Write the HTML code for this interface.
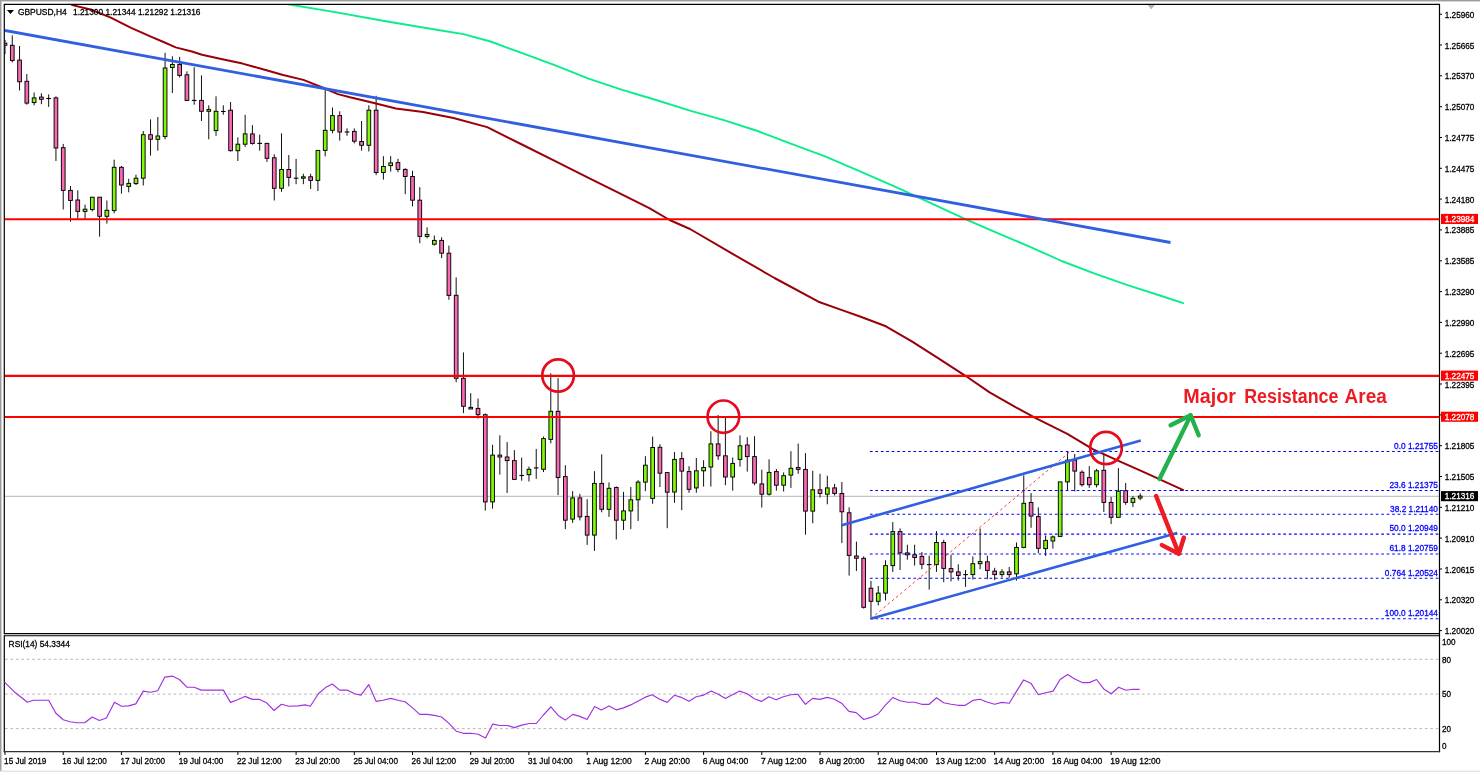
<!DOCTYPE html><html><head><meta charset="utf-8"><title>GBPUSD H4</title>
<style>html,body{margin:0;padding:0;background:#fff;overflow:hidden}svg{display:block}text{font-family:"Liberation Sans", sans-serif;stroke-width:0.3px}</style></head><body>
<svg width="1480" height="772" viewBox="0 0 1480 772">
<defs><clipPath id="cm"><rect x="4.9" y="5" width="1434" height="628"/></clipPath></defs>
<rect width="1480" height="772" fill="#fff"/>
<rect x="0" y="0" width="1480" height="1.4" fill="#9c9c9c"/>
<rect x="0" y="1.4" width="1480" height="0.6" fill="#d4d4d4"/>
<rect x="0" y="0" width="1.5" height="772" fill="#9c9c9c"/>
<rect x="1.5" y="1.4" width="0.6" height="770" fill="#d4d4d4"/>
<rect x="0" y="770.6" width="1480" height="1.4" fill="#e2e2e2"/>
<g clip-path="url(#cm)">
<line x1="4" y1="496.4" x2="1440" y2="496.4" stroke="#c4c4c4" stroke-width="1.1"/>
<line x1="5.00" y1="39.9" x2="5.00" y2="54.0" stroke="#111" stroke-width="1"/>
<rect x="3.15" y="43.2" width="3.7" height="2.1" fill="#fb68b4" stroke="#000" stroke-width="0.95"/>
<line x1="12.28" y1="35.4" x2="12.28" y2="62.4" stroke="#111" stroke-width="1"/>
<rect x="10.43" y="45.3" width="3.7" height="15.2" fill="#fb68b4" stroke="#000" stroke-width="0.95"/>
<line x1="19.55" y1="46.0" x2="19.55" y2="90.5" stroke="#111" stroke-width="1"/>
<rect x="17.70" y="60.1" width="3.7" height="21.7" fill="#fb68b4" stroke="#000" stroke-width="0.95"/>
<line x1="26.83" y1="74.0" x2="26.83" y2="104.7" stroke="#111" stroke-width="1"/>
<rect x="24.98" y="81.3" width="3.7" height="21.8" fill="#fb68b4" stroke="#000" stroke-width="0.95"/>
<line x1="34.11" y1="92.5" x2="34.11" y2="105.3" stroke="#111" stroke-width="1"/>
<rect x="32.26" y="97.9" width="3.7" height="4.7" fill="#80f808" stroke="#000" stroke-width="0.95"/>
<line x1="41.38" y1="93.3" x2="41.38" y2="104.2" stroke="#111" stroke-width="1"/>
<rect x="39.53" y="97.1" width="3.7" height="2.2" fill="#fb68b4" stroke="#000" stroke-width="0.95"/>
<line x1="48.66" y1="94.4" x2="48.66" y2="106.9" stroke="#111" stroke-width="1"/>
<line x1="46.36" y1="98.5" x2="50.96" y2="98.5" stroke="#000" stroke-width="1.1"/>
<line x1="55.94" y1="96.3" x2="55.94" y2="161.0" stroke="#111" stroke-width="1"/>
<rect x="54.09" y="97.9" width="3.7" height="50.1" fill="#fb68b4" stroke="#000" stroke-width="0.95"/>
<line x1="63.22" y1="143.9" x2="63.22" y2="209.5" stroke="#111" stroke-width="1"/>
<rect x="61.37" y="147.7" width="3.7" height="42.7" fill="#fb68b4" stroke="#000" stroke-width="0.95"/>
<line x1="70.49" y1="186.0" x2="70.49" y2="221.7" stroke="#111" stroke-width="1"/>
<rect x="68.64" y="190.4" width="3.7" height="10.1" fill="#fb68b4" stroke="#000" stroke-width="0.95"/>
<line x1="77.77" y1="190.4" x2="77.77" y2="218.7" stroke="#111" stroke-width="1"/>
<rect x="75.92" y="200.0" width="3.7" height="11.4" fill="#fb68b4" stroke="#000" stroke-width="0.95"/>
<line x1="85.05" y1="204.6" x2="85.05" y2="218.7" stroke="#111" stroke-width="1"/>
<rect x="83.20" y="209.2" width="3.7" height="2.2" fill="#80f808" stroke="#000" stroke-width="0.95"/>
<line x1="92.32" y1="197.2" x2="92.32" y2="211.4" stroke="#111" stroke-width="1"/>
<rect x="90.47" y="197.2" width="3.7" height="12.3" fill="#80f808" stroke="#000" stroke-width="0.95"/>
<line x1="99.60" y1="197.2" x2="99.60" y2="236.7" stroke="#111" stroke-width="1"/>
<rect x="97.75" y="197.2" width="3.7" height="19.1" fill="#fb68b4" stroke="#000" stroke-width="0.95"/>
<line x1="106.88" y1="200.5" x2="106.88" y2="223.6" stroke="#111" stroke-width="1"/>
<rect x="105.03" y="210.3" width="3.7" height="6.0" fill="#80f808" stroke="#000" stroke-width="0.95"/>
<line x1="114.16" y1="159.7" x2="114.16" y2="213.3" stroke="#111" stroke-width="1"/>
<rect x="112.31" y="167.3" width="3.7" height="43.3" fill="#80f808" stroke="#000" stroke-width="0.95"/>
<line x1="121.43" y1="166.0" x2="121.43" y2="193.7" stroke="#111" stroke-width="1"/>
<rect x="119.58" y="167.3" width="3.7" height="17.7" fill="#fb68b4" stroke="#000" stroke-width="0.95"/>
<line x1="128.71" y1="178.7" x2="128.71" y2="192.3" stroke="#111" stroke-width="1"/>
<rect x="126.86" y="183.4" width="3.7" height="3.0" fill="#80f808" stroke="#000" stroke-width="0.95"/>
<line x1="135.99" y1="174.7" x2="135.99" y2="185.0" stroke="#111" stroke-width="1"/>
<rect x="134.14" y="178.2" width="3.7" height="5.4" fill="#80f808" stroke="#000" stroke-width="0.95"/>
<line x1="143.26" y1="131.1" x2="143.26" y2="185.5" stroke="#111" stroke-width="1"/>
<rect x="141.41" y="134.7" width="3.7" height="43.5" fill="#80f808" stroke="#000" stroke-width="0.95"/>
<line x1="150.54" y1="119.4" x2="150.54" y2="155.6" stroke="#111" stroke-width="1"/>
<rect x="148.69" y="134.7" width="3.7" height="4.6" fill="#fb68b4" stroke="#000" stroke-width="0.95"/>
<line x1="157.82" y1="117.0" x2="157.82" y2="150.7" stroke="#111" stroke-width="1"/>
<rect x="155.97" y="136.0" width="3.7" height="3.3" fill="#80f808" stroke="#000" stroke-width="0.95"/>
<line x1="165.09" y1="52.8" x2="165.09" y2="139.3" stroke="#111" stroke-width="1"/>
<rect x="163.24" y="68.0" width="3.7" height="68.6" fill="#80f808" stroke="#000" stroke-width="0.95"/>
<line x1="172.37" y1="56.3" x2="172.37" y2="93.0" stroke="#111" stroke-width="1"/>
<rect x="170.52" y="64.5" width="3.7" height="3.0" fill="#80f808" stroke="#000" stroke-width="0.95"/>
<line x1="179.65" y1="56.9" x2="179.65" y2="77.5" stroke="#111" stroke-width="1"/>
<rect x="177.80" y="64.5" width="3.7" height="10.9" fill="#fb68b4" stroke="#000" stroke-width="0.95"/>
<line x1="186.93" y1="71.3" x2="186.93" y2="100.4" stroke="#111" stroke-width="1"/>
<rect x="185.08" y="74.8" width="3.7" height="25.6" fill="#fb68b4" stroke="#000" stroke-width="0.95"/>
<line x1="194.20" y1="67.2" x2="194.20" y2="104.7" stroke="#111" stroke-width="1"/>
<line x1="191.90" y1="100.4" x2="196.50" y2="100.4" stroke="#000" stroke-width="1.1"/>
<line x1="201.48" y1="75.4" x2="201.48" y2="121.0" stroke="#111" stroke-width="1"/>
<rect x="199.63" y="100.4" width="3.7" height="10.9" fill="#fb68b4" stroke="#000" stroke-width="0.95"/>
<line x1="208.76" y1="105.3" x2="208.76" y2="139.3" stroke="#111" stroke-width="1"/>
<rect x="206.91" y="109.6" width="3.7" height="1.7" fill="#80f808" stroke="#000" stroke-width="0.95"/>
<line x1="216.03" y1="96.3" x2="216.03" y2="135.8" stroke="#111" stroke-width="1"/>
<rect x="214.18" y="111.3" width="3.7" height="19.3" fill="#80f808" stroke="#000" stroke-width="0.95"/>
<line x1="223.31" y1="105.3" x2="223.31" y2="114.8" stroke="#111" stroke-width="1"/>
<line x1="221.01" y1="111.5" x2="225.61" y2="111.5" stroke="#000" stroke-width="1.1"/>
<line x1="230.59" y1="102.0" x2="230.59" y2="151.5" stroke="#111" stroke-width="1"/>
<rect x="228.74" y="110.2" width="3.7" height="40.5" fill="#fb68b4" stroke="#000" stroke-width="0.95"/>
<line x1="237.86" y1="137.4" x2="237.86" y2="161.0" stroke="#111" stroke-width="1"/>
<rect x="236.01" y="144.2" width="3.7" height="6.5" fill="#80f808" stroke="#000" stroke-width="0.95"/>
<line x1="245.14" y1="114.8" x2="245.14" y2="146.9" stroke="#111" stroke-width="1"/>
<rect x="243.29" y="133.9" width="3.7" height="10.3" fill="#80f808" stroke="#000" stroke-width="0.95"/>
<line x1="252.42" y1="125.1" x2="252.42" y2="144.7" stroke="#111" stroke-width="1"/>
<rect x="250.57" y="133.9" width="3.7" height="9.5" fill="#fb68b4" stroke="#000" stroke-width="0.95"/>
<line x1="259.69" y1="134.7" x2="259.69" y2="150.7" stroke="#111" stroke-width="1"/>
<line x1="257.39" y1="143.4" x2="262.00" y2="143.4" stroke="#000" stroke-width="1.1"/>
<line x1="266.97" y1="142.8" x2="266.97" y2="161.9" stroke="#111" stroke-width="1"/>
<rect x="265.12" y="143.4" width="3.7" height="14.9" fill="#fb68b4" stroke="#000" stroke-width="0.95"/>
<line x1="274.25" y1="154.3" x2="274.25" y2="200.5" stroke="#111" stroke-width="1"/>
<rect x="272.40" y="157.8" width="3.7" height="30.5" fill="#fb68b4" stroke="#000" stroke-width="0.95"/>
<line x1="281.53" y1="133.3" x2="281.53" y2="191.8" stroke="#111" stroke-width="1"/>
<rect x="279.68" y="169.5" width="3.7" height="18.8" fill="#80f808" stroke="#000" stroke-width="0.95"/>
<line x1="288.80" y1="155.0" x2="288.80" y2="186.4" stroke="#111" stroke-width="1"/>
<rect x="286.95" y="169.5" width="3.7" height="7.9" fill="#fb68b4" stroke="#000" stroke-width="0.95"/>
<line x1="296.08" y1="158.9" x2="296.08" y2="184.2" stroke="#111" stroke-width="1"/>
<line x1="293.78" y1="178.2" x2="298.38" y2="178.2" stroke="#000" stroke-width="1.1"/>
<line x1="303.36" y1="173.8" x2="303.36" y2="184.2" stroke="#111" stroke-width="1"/>
<rect x="301.51" y="176.8" width="3.7" height="1.4" fill="#80f808" stroke="#000" stroke-width="0.95"/>
<line x1="310.63" y1="173.8" x2="310.63" y2="189.0" stroke="#111" stroke-width="1"/>
<rect x="308.78" y="176.8" width="3.7" height="3.6" fill="#fb68b4" stroke="#000" stroke-width="0.95"/>
<line x1="317.91" y1="150.4" x2="317.91" y2="191.0" stroke="#111" stroke-width="1"/>
<rect x="316.06" y="150.4" width="3.7" height="30.0" fill="#80f808" stroke="#000" stroke-width="0.95"/>
<line x1="325.19" y1="89.0" x2="325.19" y2="156.4" stroke="#111" stroke-width="1"/>
<rect x="323.34" y="130.3" width="3.7" height="20.1" fill="#80f808" stroke="#000" stroke-width="0.95"/>
<line x1="332.47" y1="107.5" x2="332.47" y2="133.3" stroke="#111" stroke-width="1"/>
<rect x="330.62" y="115.6" width="3.7" height="14.7" fill="#80f808" stroke="#000" stroke-width="0.95"/>
<line x1="339.74" y1="111.3" x2="339.74" y2="140.6" stroke="#111" stroke-width="1"/>
<rect x="337.89" y="115.6" width="3.7" height="16.4" fill="#fb68b4" stroke="#000" stroke-width="0.95"/>
<line x1="347.02" y1="128.4" x2="347.02" y2="135.8" stroke="#111" stroke-width="1"/>
<line x1="344.72" y1="132.0" x2="349.32" y2="132.0" stroke="#000" stroke-width="1.1"/>
<line x1="354.30" y1="128.4" x2="354.30" y2="143.4" stroke="#111" stroke-width="1"/>
<rect x="352.45" y="131.4" width="3.7" height="9.8" fill="#fb68b4" stroke="#000" stroke-width="0.95"/>
<line x1="361.57" y1="121.0" x2="361.57" y2="150.7" stroke="#111" stroke-width="1"/>
<rect x="359.72" y="141.5" width="3.7" height="3.8" fill="#fb68b4" stroke="#000" stroke-width="0.95"/>
<line x1="368.85" y1="105.3" x2="368.85" y2="151.5" stroke="#111" stroke-width="1"/>
<rect x="367.00" y="110.2" width="3.7" height="35.1" fill="#80f808" stroke="#000" stroke-width="0.95"/>
<line x1="376.13" y1="95.8" x2="376.13" y2="175.2" stroke="#111" stroke-width="1"/>
<rect x="374.28" y="110.2" width="3.7" height="62.3" fill="#fb68b4" stroke="#000" stroke-width="0.95"/>
<line x1="383.40" y1="156.2" x2="383.40" y2="179.6" stroke="#111" stroke-width="1"/>
<rect x="381.55" y="166.5" width="3.7" height="6.0" fill="#80f808" stroke="#000" stroke-width="0.95"/>
<line x1="390.68" y1="156.1" x2="390.68" y2="171.6" stroke="#111" stroke-width="1"/>
<rect x="388.83" y="162.9" width="3.7" height="2.7" fill="#80f808" stroke="#000" stroke-width="0.95"/>
<line x1="397.96" y1="158.8" x2="397.96" y2="172.2" stroke="#111" stroke-width="1"/>
<rect x="396.11" y="162.6" width="3.7" height="6.8" fill="#fb68b4" stroke="#000" stroke-width="0.95"/>
<line x1="405.24" y1="168.3" x2="405.24" y2="194.2" stroke="#111" stroke-width="1"/>
<rect x="403.38" y="169.4" width="3.7" height="7.1" fill="#fb68b4" stroke="#000" stroke-width="0.95"/>
<line x1="412.51" y1="170.8" x2="412.51" y2="206.4" stroke="#111" stroke-width="1"/>
<rect x="410.66" y="176.5" width="3.7" height="23.7" fill="#fb68b4" stroke="#000" stroke-width="0.95"/>
<line x1="419.79" y1="187.1" x2="419.79" y2="243.2" stroke="#111" stroke-width="1"/>
<rect x="417.94" y="200.2" width="3.7" height="36.2" fill="#fb68b4" stroke="#000" stroke-width="0.95"/>
<line x1="427.07" y1="227.4" x2="427.07" y2="238.3" stroke="#111" stroke-width="1"/>
<rect x="425.22" y="234.4" width="3.7" height="2.0" fill="#80f808" stroke="#000" stroke-width="0.95"/>
<line x1="434.34" y1="235.5" x2="434.34" y2="245.6" stroke="#111" stroke-width="1"/>
<rect x="432.49" y="240.4" width="3.7" height="3.8" fill="#80f808" stroke="#000" stroke-width="0.95"/>
<line x1="441.62" y1="237.2" x2="441.62" y2="258.1" stroke="#111" stroke-width="1"/>
<rect x="439.77" y="240.4" width="3.7" height="12.8" fill="#fb68b4" stroke="#000" stroke-width="0.95"/>
<line x1="448.90" y1="245.6" x2="448.90" y2="299.8" stroke="#111" stroke-width="1"/>
<rect x="447.05" y="253.2" width="3.7" height="42.2" fill="#fb68b4" stroke="#000" stroke-width="0.95"/>
<line x1="456.17" y1="277.4" x2="456.17" y2="382.3" stroke="#111" stroke-width="1"/>
<rect x="454.32" y="295.3" width="3.7" height="83.0" fill="#fb68b4" stroke="#000" stroke-width="0.95"/>
<line x1="463.45" y1="352.4" x2="463.45" y2="413.1" stroke="#111" stroke-width="1"/>
<rect x="461.60" y="378.3" width="3.7" height="28.0" fill="#fb68b4" stroke="#000" stroke-width="0.95"/>
<line x1="470.73" y1="393.2" x2="470.73" y2="409.0" stroke="#111" stroke-width="1"/>
<rect x="468.88" y="407.4" width="3.7" height="1.6" fill="#fb68b4" stroke="#000" stroke-width="0.95"/>
<line x1="478.00" y1="398.6" x2="478.00" y2="418.6" stroke="#111" stroke-width="1"/>
<rect x="476.15" y="408.4" width="3.7" height="6.3" fill="#fb68b4" stroke="#000" stroke-width="0.95"/>
<line x1="485.28" y1="413.5" x2="485.28" y2="510.6" stroke="#111" stroke-width="1"/>
<rect x="483.43" y="414.7" width="3.7" height="87.2" fill="#fb68b4" stroke="#000" stroke-width="0.95"/>
<line x1="492.56" y1="444.8" x2="492.56" y2="508.7" stroke="#111" stroke-width="1"/>
<rect x="490.71" y="455.1" width="3.7" height="46.8" fill="#80f808" stroke="#000" stroke-width="0.95"/>
<line x1="499.84" y1="435.3" x2="499.84" y2="474.7" stroke="#111" stroke-width="1"/>
<rect x="497.99" y="455.1" width="3.7" height="1.9" fill="#fb68b4" stroke="#000" stroke-width="0.95"/>
<line x1="507.11" y1="442.1" x2="507.11" y2="493.0" stroke="#111" stroke-width="1"/>
<rect x="505.26" y="457.0" width="3.7" height="3.6" fill="#fb68b4" stroke="#000" stroke-width="0.95"/>
<line x1="514.39" y1="450.2" x2="514.39" y2="479.4" stroke="#111" stroke-width="1"/>
<rect x="512.54" y="460.6" width="3.7" height="18.8" fill="#fb68b4" stroke="#000" stroke-width="0.95"/>
<line x1="521.67" y1="457.6" x2="521.67" y2="480.7" stroke="#111" stroke-width="1"/>
<line x1="519.37" y1="475.5" x2="523.97" y2="475.5" stroke="#000" stroke-width="1.1"/>
<line x1="528.94" y1="466.6" x2="528.94" y2="481.5" stroke="#111" stroke-width="1"/>
<rect x="527.09" y="469.3" width="3.7" height="5.4" fill="#80f808" stroke="#000" stroke-width="0.95"/>
<line x1="536.22" y1="448.9" x2="536.22" y2="478.8" stroke="#111" stroke-width="1"/>
<line x1="533.92" y1="467.9" x2="538.52" y2="467.9" stroke="#000" stroke-width="1.1"/>
<line x1="543.50" y1="436.6" x2="543.50" y2="472.0" stroke="#111" stroke-width="1"/>
<rect x="541.65" y="438.6" width="3.7" height="30.7" fill="#80f808" stroke="#000" stroke-width="0.95"/>
<line x1="550.77" y1="373.3" x2="550.77" y2="443.4" stroke="#111" stroke-width="1"/>
<rect x="548.92" y="411.3" width="3.7" height="28.1" fill="#80f808" stroke="#000" stroke-width="0.95"/>
<line x1="558.05" y1="378.2" x2="558.05" y2="495.1" stroke="#111" stroke-width="1"/>
<rect x="556.20" y="411.3" width="3.7" height="66.2" fill="#fb68b4" stroke="#000" stroke-width="0.95"/>
<line x1="565.33" y1="465.2" x2="565.33" y2="529.1" stroke="#111" stroke-width="1"/>
<rect x="563.48" y="476.6" width="3.7" height="43.6" fill="#fb68b4" stroke="#000" stroke-width="0.95"/>
<line x1="572.61" y1="491.1" x2="572.61" y2="522.9" stroke="#111" stroke-width="1"/>
<rect x="570.76" y="497.9" width="3.7" height="21.2" fill="#80f808" stroke="#000" stroke-width="0.95"/>
<line x1="579.88" y1="493.8" x2="579.88" y2="520.4" stroke="#111" stroke-width="1"/>
<rect x="578.03" y="497.9" width="3.7" height="19.0" fill="#fb68b4" stroke="#000" stroke-width="0.95"/>
<line x1="587.16" y1="499.2" x2="587.16" y2="544.9" stroke="#111" stroke-width="1"/>
<rect x="585.31" y="516.4" width="3.7" height="18.7" fill="#fb68b4" stroke="#000" stroke-width="0.95"/>
<line x1="594.44" y1="471.2" x2="594.44" y2="550.9" stroke="#111" stroke-width="1"/>
<rect x="592.59" y="483.4" width="3.7" height="51.7" fill="#80f808" stroke="#000" stroke-width="0.95"/>
<line x1="601.71" y1="454.3" x2="601.71" y2="512.3" stroke="#111" stroke-width="1"/>
<rect x="599.86" y="483.4" width="3.7" height="25.9" fill="#fb68b4" stroke="#000" stroke-width="0.95"/>
<line x1="608.99" y1="482.4" x2="608.99" y2="516.9" stroke="#111" stroke-width="1"/>
<rect x="607.14" y="488.3" width="3.7" height="21.0" fill="#80f808" stroke="#000" stroke-width="0.95"/>
<line x1="616.27" y1="486.4" x2="616.27" y2="539.5" stroke="#111" stroke-width="1"/>
<rect x="614.42" y="487.5" width="3.7" height="32.7" fill="#fb68b4" stroke="#000" stroke-width="0.95"/>
<line x1="623.54" y1="491.9" x2="623.54" y2="530.0" stroke="#111" stroke-width="1"/>
<rect x="621.69" y="510.9" width="3.7" height="9.3" fill="#80f808" stroke="#000" stroke-width="0.95"/>
<line x1="630.82" y1="487.0" x2="630.82" y2="529.1" stroke="#111" stroke-width="1"/>
<rect x="628.97" y="499.8" width="3.7" height="11.1" fill="#80f808" stroke="#000" stroke-width="0.95"/>
<line x1="638.10" y1="480.2" x2="638.10" y2="521.0" stroke="#111" stroke-width="1"/>
<rect x="636.25" y="482.1" width="3.7" height="17.7" fill="#80f808" stroke="#000" stroke-width="0.95"/>
<line x1="645.38" y1="456.2" x2="645.38" y2="491.1" stroke="#111" stroke-width="1"/>
<rect x="643.53" y="465.2" width="3.7" height="16.9" fill="#80f808" stroke="#000" stroke-width="0.95"/>
<line x1="652.65" y1="436.6" x2="652.65" y2="503.8" stroke="#111" stroke-width="1"/>
<rect x="650.80" y="447.5" width="3.7" height="50.9" fill="#80f808" stroke="#000" stroke-width="0.95"/>
<line x1="659.93" y1="444.2" x2="659.93" y2="487.0" stroke="#111" stroke-width="1"/>
<rect x="658.08" y="447.3" width="3.7" height="25.9" fill="#fb68b4" stroke="#000" stroke-width="0.95"/>
<line x1="667.21" y1="472.6" x2="667.21" y2="528.2" stroke="#111" stroke-width="1"/>
<rect x="665.36" y="472.6" width="3.7" height="19.6" fill="#fb68b4" stroke="#000" stroke-width="0.95"/>
<line x1="674.48" y1="452.0" x2="674.48" y2="502.9" stroke="#111" stroke-width="1"/>
<rect x="672.63" y="459.4" width="3.7" height="32.6" fill="#80f808" stroke="#000" stroke-width="0.95"/>
<line x1="681.76" y1="452.0" x2="681.76" y2="510.2" stroke="#111" stroke-width="1"/>
<rect x="679.91" y="458.6" width="3.7" height="12.5" fill="#fb68b4" stroke="#000" stroke-width="0.95"/>
<line x1="689.04" y1="466.2" x2="689.04" y2="492.8" stroke="#111" stroke-width="1"/>
<rect x="687.19" y="471.6" width="3.7" height="17.7" fill="#fb68b4" stroke="#000" stroke-width="0.95"/>
<line x1="696.32" y1="458.0" x2="696.32" y2="492.8" stroke="#111" stroke-width="1"/>
<rect x="694.47" y="470.8" width="3.7" height="17.1" fill="#80f808" stroke="#000" stroke-width="0.95"/>
<line x1="703.59" y1="460.2" x2="703.59" y2="486.6" stroke="#111" stroke-width="1"/>
<rect x="701.74" y="467.5" width="3.7" height="3.3" fill="#80f808" stroke="#000" stroke-width="0.95"/>
<line x1="710.87" y1="431.3" x2="710.87" y2="486.6" stroke="#111" stroke-width="1"/>
<rect x="709.02" y="443.9" width="3.7" height="23.1" fill="#80f808" stroke="#000" stroke-width="0.95"/>
<line x1="718.15" y1="415.0" x2="718.15" y2="459.9" stroke="#111" stroke-width="1"/>
<rect x="716.30" y="443.9" width="3.7" height="11.9" fill="#fb68b4" stroke="#000" stroke-width="0.95"/>
<line x1="725.42" y1="417.2" x2="725.42" y2="485.2" stroke="#111" stroke-width="1"/>
<rect x="723.57" y="455.8" width="3.7" height="21.2" fill="#fb68b4" stroke="#000" stroke-width="0.95"/>
<line x1="732.70" y1="457.5" x2="732.70" y2="490.7" stroke="#111" stroke-width="1"/>
<rect x="730.85" y="463.4" width="3.7" height="13.6" fill="#80f808" stroke="#000" stroke-width="0.95"/>
<line x1="739.98" y1="435.4" x2="739.98" y2="466.7" stroke="#111" stroke-width="1"/>
<rect x="738.13" y="445.8" width="3.7" height="13.6" fill="#80f808" stroke="#000" stroke-width="0.95"/>
<line x1="747.25" y1="437.1" x2="747.25" y2="471.6" stroke="#111" stroke-width="1"/>
<rect x="745.40" y="445.0" width="3.7" height="11.6" fill="#fb68b4" stroke="#000" stroke-width="0.95"/>
<line x1="754.53" y1="436.2" x2="754.53" y2="485.2" stroke="#111" stroke-width="1"/>
<rect x="752.68" y="456.6" width="3.7" height="26.4" fill="#fb68b4" stroke="#000" stroke-width="0.95"/>
<line x1="761.81" y1="469.7" x2="761.81" y2="507.5" stroke="#111" stroke-width="1"/>
<rect x="759.96" y="483.9" width="3.7" height="10.3" fill="#fb68b4" stroke="#000" stroke-width="0.95"/>
<line x1="769.09" y1="459.4" x2="769.09" y2="495.5" stroke="#111" stroke-width="1"/>
<rect x="767.24" y="472.4" width="3.7" height="21.8" fill="#80f808" stroke="#000" stroke-width="0.95"/>
<line x1="776.36" y1="468.9" x2="776.36" y2="490.7" stroke="#111" stroke-width="1"/>
<rect x="774.51" y="471.6" width="3.7" height="13.6" fill="#fb68b4" stroke="#000" stroke-width="0.95"/>
<line x1="783.64" y1="472.4" x2="783.64" y2="491.5" stroke="#111" stroke-width="1"/>
<rect x="781.79" y="475.7" width="3.7" height="9.5" fill="#80f808" stroke="#000" stroke-width="0.95"/>
<line x1="790.92" y1="451.2" x2="790.92" y2="487.9" stroke="#111" stroke-width="1"/>
<rect x="789.07" y="468.3" width="3.7" height="6.8" fill="#80f808" stroke="#000" stroke-width="0.95"/>
<line x1="798.19" y1="443.6" x2="798.19" y2="473.8" stroke="#111" stroke-width="1"/>
<rect x="796.34" y="467.5" width="3.7" height="1.9" fill="#fb68b4" stroke="#000" stroke-width="0.95"/>
<line x1="805.47" y1="453.1" x2="805.47" y2="534.7" stroke="#111" stroke-width="1"/>
<rect x="803.62" y="469.4" width="3.7" height="41.7" fill="#fb68b4" stroke="#000" stroke-width="0.95"/>
<line x1="812.75" y1="470.8" x2="812.75" y2="523.3" stroke="#111" stroke-width="1"/>
<rect x="810.90" y="489.8" width="3.7" height="21.3" fill="#80f808" stroke="#000" stroke-width="0.95"/>
<line x1="820.02" y1="473.8" x2="820.02" y2="497.5" stroke="#111" stroke-width="1"/>
<rect x="818.17" y="489.8" width="3.7" height="3.6" fill="#fb68b4" stroke="#000" stroke-width="0.95"/>
<line x1="827.30" y1="475.7" x2="827.30" y2="504.3" stroke="#111" stroke-width="1"/>
<rect x="825.45" y="487.9" width="3.7" height="6.3" fill="#80f808" stroke="#000" stroke-width="0.95"/>
<line x1="834.58" y1="483.9" x2="834.58" y2="495.5" stroke="#111" stroke-width="1"/>
<rect x="832.73" y="487.9" width="3.7" height="5.5" fill="#fb68b4" stroke="#000" stroke-width="0.95"/>
<line x1="841.86" y1="482.0" x2="841.86" y2="543.1" stroke="#111" stroke-width="1"/>
<rect x="840.00" y="493.5" width="3.7" height="18.3" fill="#fb68b4" stroke="#000" stroke-width="0.95"/>
<line x1="849.13" y1="507.3" x2="849.13" y2="575.6" stroke="#111" stroke-width="1"/>
<rect x="847.28" y="512.8" width="3.7" height="42.6" fill="#fb68b4" stroke="#000" stroke-width="0.95"/>
<line x1="856.41" y1="541.6" x2="856.41" y2="571.0" stroke="#111" stroke-width="1"/>
<rect x="854.56" y="556.0" width="3.7" height="2.2" fill="#fb68b4" stroke="#000" stroke-width="0.95"/>
<line x1="863.69" y1="556.4" x2="863.69" y2="608.6" stroke="#111" stroke-width="1"/>
<rect x="861.84" y="558.3" width="3.7" height="49.0" fill="#fb68b4" stroke="#000" stroke-width="0.95"/>
<line x1="870.96" y1="580.9" x2="870.96" y2="617.6" stroke="#111" stroke-width="1"/>
<rect x="869.11" y="588.2" width="3.7" height="13.1" fill="#fb68b4" stroke="#000" stroke-width="0.95"/>
<line x1="878.24" y1="586.0" x2="878.24" y2="605.4" stroke="#111" stroke-width="1"/>
<rect x="876.39" y="593.1" width="3.7" height="8.2" fill="#80f808" stroke="#000" stroke-width="0.95"/>
<line x1="885.52" y1="560.2" x2="885.52" y2="600.5" stroke="#111" stroke-width="1"/>
<rect x="883.67" y="565.6" width="3.7" height="27.5" fill="#80f808" stroke="#000" stroke-width="0.95"/>
<line x1="892.79" y1="522.1" x2="892.79" y2="571.9" stroke="#111" stroke-width="1"/>
<rect x="890.94" y="531.6" width="3.7" height="34.0" fill="#80f808" stroke="#000" stroke-width="0.95"/>
<line x1="900.07" y1="528.4" x2="900.07" y2="570.0" stroke="#111" stroke-width="1"/>
<rect x="898.22" y="531.6" width="3.7" height="21.3" fill="#fb68b4" stroke="#000" stroke-width="0.95"/>
<line x1="907.35" y1="544.7" x2="907.35" y2="559.7" stroke="#111" stroke-width="1"/>
<rect x="905.50" y="552.9" width="3.7" height="1.9" fill="#fb68b4" stroke="#000" stroke-width="0.95"/>
<line x1="914.62" y1="544.7" x2="914.62" y2="565.6" stroke="#111" stroke-width="1"/>
<rect x="912.77" y="554.8" width="3.7" height="2.7" fill="#fb68b4" stroke="#000" stroke-width="0.95"/>
<line x1="921.90" y1="552.0" x2="921.90" y2="569.2" stroke="#111" stroke-width="1"/>
<rect x="920.05" y="556.4" width="3.7" height="7.9" fill="#fb68b4" stroke="#000" stroke-width="0.95"/>
<line x1="929.18" y1="555.6" x2="929.18" y2="589.6" stroke="#111" stroke-width="1"/>
<line x1="926.88" y1="564.6" x2="931.48" y2="564.6" stroke="#000" stroke-width="1.1"/>
<line x1="936.46" y1="531.1" x2="936.46" y2="571.9" stroke="#111" stroke-width="1"/>
<rect x="934.61" y="542.5" width="3.7" height="22.1" fill="#80f808" stroke="#000" stroke-width="0.95"/>
<line x1="943.73" y1="539.8" x2="943.73" y2="582.2" stroke="#111" stroke-width="1"/>
<rect x="941.88" y="542.5" width="3.7" height="25.9" fill="#fb68b4" stroke="#000" stroke-width="0.95"/>
<line x1="951.01" y1="554.8" x2="951.01" y2="581.4" stroke="#111" stroke-width="1"/>
<rect x="949.16" y="568.6" width="3.7" height="3.3" fill="#fb68b4" stroke="#000" stroke-width="0.95"/>
<line x1="958.29" y1="564.3" x2="958.29" y2="580.6" stroke="#111" stroke-width="1"/>
<rect x="956.44" y="571.9" width="3.7" height="3.5" fill="#fb68b4" stroke="#000" stroke-width="0.95"/>
<line x1="965.56" y1="570.0" x2="965.56" y2="586.9" stroke="#111" stroke-width="1"/>
<line x1="963.26" y1="574.6" x2="967.86" y2="574.6" stroke="#000" stroke-width="1.1"/>
<line x1="972.84" y1="556.4" x2="972.84" y2="579.5" stroke="#111" stroke-width="1"/>
<rect x="970.99" y="563.7" width="3.7" height="10.9" fill="#80f808" stroke="#000" stroke-width="0.95"/>
<line x1="980.12" y1="528.4" x2="980.12" y2="569.2" stroke="#111" stroke-width="1"/>
<rect x="978.27" y="561.6" width="3.7" height="2.1" fill="#80f808" stroke="#000" stroke-width="0.95"/>
<line x1="987.39" y1="555.6" x2="987.39" y2="579.2" stroke="#111" stroke-width="1"/>
<rect x="985.54" y="561.8" width="3.7" height="8.7" fill="#fb68b4" stroke="#000" stroke-width="0.95"/>
<line x1="994.67" y1="567.8" x2="994.67" y2="580.1" stroke="#111" stroke-width="1"/>
<rect x="992.82" y="571.1" width="3.7" height="3.5" fill="#fb68b4" stroke="#000" stroke-width="0.95"/>
<line x1="1001.95" y1="569.2" x2="1001.95" y2="577.3" stroke="#111" stroke-width="1"/>
<rect x="1000.10" y="571.9" width="3.7" height="2.7" fill="#80f808" stroke="#000" stroke-width="0.95"/>
<line x1="1009.23" y1="567.0" x2="1009.23" y2="577.9" stroke="#111" stroke-width="1"/>
<rect x="1007.38" y="571.9" width="3.7" height="2.7" fill="#fb68b4" stroke="#000" stroke-width="0.95"/>
<line x1="1016.50" y1="542.5" x2="1016.50" y2="580.6" stroke="#111" stroke-width="1"/>
<rect x="1014.65" y="547.4" width="3.7" height="26.4" fill="#80f808" stroke="#000" stroke-width="0.95"/>
<line x1="1023.78" y1="475.3" x2="1023.78" y2="548.2" stroke="#111" stroke-width="1"/>
<rect x="1021.93" y="503.3" width="3.7" height="44.1" fill="#80f808" stroke="#000" stroke-width="0.95"/>
<line x1="1031.06" y1="493.0" x2="1031.06" y2="527.8" stroke="#111" stroke-width="1"/>
<rect x="1029.21" y="502.5" width="3.7" height="13.6" fill="#fb68b4" stroke="#000" stroke-width="0.95"/>
<line x1="1038.33" y1="507.4" x2="1038.33" y2="553.0" stroke="#111" stroke-width="1"/>
<rect x="1036.48" y="516.6" width="3.7" height="31.7" fill="#fb68b4" stroke="#000" stroke-width="0.95"/>
<line x1="1045.61" y1="535.5" x2="1045.61" y2="555.9" stroke="#111" stroke-width="1"/>
<rect x="1043.76" y="540.4" width="3.7" height="8.2" fill="#80f808" stroke="#000" stroke-width="0.95"/>
<line x1="1052.89" y1="535.5" x2="1052.89" y2="548.6" stroke="#111" stroke-width="1"/>
<rect x="1051.04" y="536.9" width="3.7" height="4.1" fill="#80f808" stroke="#000" stroke-width="0.95"/>
<line x1="1060.16" y1="481.9" x2="1060.16" y2="537.0" stroke="#111" stroke-width="1"/>
<rect x="1058.32" y="481.9" width="3.7" height="54.5" fill="#80f808" stroke="#000" stroke-width="0.95"/>
<line x1="1067.44" y1="452.0" x2="1067.44" y2="490.7" stroke="#111" stroke-width="1"/>
<rect x="1065.59" y="460.2" width="3.7" height="21.7" fill="#80f808" stroke="#000" stroke-width="0.95"/>
<line x1="1074.72" y1="453.9" x2="1074.72" y2="491.5" stroke="#111" stroke-width="1"/>
<rect x="1072.87" y="460.2" width="3.7" height="10.9" fill="#fb68b4" stroke="#000" stroke-width="0.95"/>
<line x1="1082.00" y1="470.3" x2="1082.00" y2="486.6" stroke="#111" stroke-width="1"/>
<rect x="1080.15" y="472.2" width="3.7" height="12.5" fill="#fb68b4" stroke="#000" stroke-width="0.95"/>
<line x1="1089.27" y1="466.2" x2="1089.27" y2="487.9" stroke="#111" stroke-width="1"/>
<rect x="1087.42" y="477.6" width="3.7" height="7.1" fill="#fb68b4" stroke="#000" stroke-width="0.95"/>
<line x1="1096.55" y1="468.9" x2="1096.55" y2="487.4" stroke="#111" stroke-width="1"/>
<rect x="1094.70" y="470.8" width="3.7" height="13.9" fill="#80f808" stroke="#000" stroke-width="0.95"/>
<line x1="1103.83" y1="453.4" x2="1103.83" y2="511.9" stroke="#111" stroke-width="1"/>
<rect x="1101.98" y="470.3" width="3.7" height="32.1" fill="#fb68b4" stroke="#000" stroke-width="0.95"/>
<line x1="1111.10" y1="496.9" x2="1111.10" y2="524.1" stroke="#111" stroke-width="1"/>
<rect x="1109.25" y="502.4" width="3.7" height="14.9" fill="#fb68b4" stroke="#000" stroke-width="0.95"/>
<line x1="1118.38" y1="468.1" x2="1118.38" y2="517.3" stroke="#111" stroke-width="1"/>
<rect x="1116.53" y="491.2" width="3.7" height="26.1" fill="#80f808" stroke="#000" stroke-width="0.95"/>
<line x1="1125.66" y1="483.0" x2="1125.66" y2="504.8" stroke="#111" stroke-width="1"/>
<rect x="1123.81" y="490.7" width="3.7" height="11.7" fill="#fb68b4" stroke="#000" stroke-width="0.95"/>
<line x1="1132.93" y1="496.1" x2="1132.93" y2="507.0" stroke="#111" stroke-width="1"/>
<rect x="1131.09" y="498.3" width="3.7" height="4.1" fill="#80f808" stroke="#000" stroke-width="0.95"/>
<line x1="1140.21" y1="493.4" x2="1140.21" y2="500.2" stroke="#111" stroke-width="1"/>
<rect x="1138.36" y="496.1" width="3.7" height="1.9" fill="#80f808" stroke="#000" stroke-width="0.95"/>
<polyline fill="none" stroke="#08ee88" stroke-width="1.9" transform="translate(0 0.3)" stroke-linejoin="round" points="287.8,4.0 335.1,11.8 385.8,20.9 436.5,29.4 463.5,33.8 490.5,41.2 520.9,52.4 554.7,64.9 588.5,78.4 622.3,89.5 656.1,99.7 690.0,110.4 723.8,119.9 757.6,130.7 791.4,143.5 825.1,156.0 858.9,170.5 892.7,185.4 926.5,200.9 967.0,219.5 994.1,231.4 1027.8,245.5 1061.6,260.7 1095.4,273.6 1129.2,285.4 1163.0,296.2 1183.9,303.0"/>
<polyline fill="none" stroke="#9a0008" stroke-width="2.0" transform="translate(0 0.4)" stroke-linejoin="round" points="71.3,4.5 90.5,9.1 110.8,17.2 131.1,27.4 151.4,36.5 163.5,41.6 175.7,47.0 191.9,51.1 202.0,54.3 222.3,58.8 242.6,63.2 262.9,68.9 283.1,74.6 303.4,79.5 323.7,87.6 337.9,93.7 350.0,96.9 368.9,101.4 395.9,108.1 423.0,111.5 453.4,117.6 487.2,126.7 520.9,143.6 554.7,160.5 588.5,177.4 622.3,194.3 649.3,207.8 669.6,219.6 690.0,228.6 730.5,252.3 774.5,277.6 818.4,301.3 842.0,309.7 860.0,316.1 885.9,325.9 911.8,340.9 937.7,357.5 966.2,375.9 989.6,392.0 1015.5,406.8 1036.2,417.9 1067.3,433.5 1093.2,449.0 1119.1,460.7 1145.0,472.3 1183.9,489.9"/>
<line x1="869.9" y1="451.4" x2="1439" y2="451.4" stroke="#0000ff" stroke-width="1.05" stroke-dasharray="2.7 2.74"/>
<line x1="869.9" y1="490.4" x2="1439" y2="490.4" stroke="#0000ff" stroke-width="1.05" stroke-dasharray="2.7 2.74"/>
<line x1="869.9" y1="514.3" x2="1439" y2="514.3" stroke="#0000ff" stroke-width="1.05" stroke-dasharray="2.7 2.74"/>
<line x1="869.9" y1="534.1" x2="1439" y2="534.1" stroke="#0000ff" stroke-width="1.05" stroke-dasharray="2.7 2.74"/>
<line x1="869.9" y1="553.9" x2="1439" y2="553.9" stroke="#0000ff" stroke-width="1.05" stroke-dasharray="2.7 2.74"/>
<line x1="869.9" y1="578.2" x2="1439" y2="578.2" stroke="#0000ff" stroke-width="1.05" stroke-dasharray="2.7 2.74"/>
<line x1="869.9" y1="618.7" x2="1439" y2="618.7" stroke="#0000ff" stroke-width="1.05" stroke-dasharray="2.7 2.74"/>
<line x1="871" y1="618.5" x2="1070.5" y2="451.4" stroke="#ff2020" stroke-width="0.9" stroke-dasharray="2.7 2.74"/>
<line x1="4" y1="219.2" x2="1440" y2="219.2" stroke="#ff0000" stroke-width="2.1"/>
<line x1="4" y1="375.9" x2="1440" y2="375.9" stroke="#ff0000" stroke-width="2.1"/>
<line x1="4" y1="417.0" x2="1440" y2="417.0" stroke="#ff0000" stroke-width="2.1"/>
<line x1="4" y1="30.3" x2="1170.5" y2="242.5" stroke="#3060e0" stroke-width="2.8"/>
<line x1="841.7" y1="525.2" x2="1140.8" y2="440.6" stroke="#3060e0" stroke-width="2.6"/>
<line x1="870.7" y1="618.7" x2="1177.3" y2="532.9" stroke="#3060e0" stroke-width="2.6"/>
<ellipse cx="558.1" cy="375.5" rx="15.8" ry="16.2" fill="none" stroke="#e60a1e" stroke-width="2.7"/>
<ellipse cx="723.4" cy="416.7" rx="15.8" ry="16.2" fill="none" stroke="#e60a1e" stroke-width="2.7"/>
<ellipse cx="1106.0" cy="448.0" rx="15.8" ry="16.2" fill="none" stroke="#e60a1e" stroke-width="2.7"/>
<g fill="none" stroke="#22b14c" stroke-width="4.4" stroke-linecap="round" stroke-linejoin="round"><path d="M1159.5 479 L1190.6 415.6"/><path d="M1170.6 425.2 L1190.6 415.2 L1198.7 435.3"/></g>
<g fill="none" stroke="#ed1c24" stroke-width="4.4" stroke-linecap="round" stroke-linejoin="round"><path d="M1156.1 496 L1178.8 553.6"/><path d="M1161.9 545.1 L1178.8 553.8 L1183.9 537.5"/></g>
</g>
<text transform="translate(1438.0 448.7) scale(0.895 1)" font-size="9.3" fill="#0000ff" text-anchor="end" stroke="#0000ff">0.0 1.21755</text>
<text transform="translate(1438.0 487.7) scale(0.895 1)" font-size="9.3" fill="#0000ff" text-anchor="end" stroke="#0000ff">23.6 1.21375</text>
<text transform="translate(1438.0 511.6) scale(0.895 1)" font-size="9.3" fill="#0000ff" text-anchor="end" stroke="#0000ff">38.2 1.21140</text>
<text transform="translate(1438.0 531.4) scale(0.895 1)" font-size="9.3" fill="#0000ff" text-anchor="end" stroke="#0000ff">50.0 1.20949</text>
<text transform="translate(1438.0 551.2) scale(0.895 1)" font-size="9.3" fill="#0000ff" text-anchor="end" stroke="#0000ff">61.8 1.20759</text>
<text transform="translate(1438.0 575.5) scale(0.895 1)" font-size="9.3" fill="#0000ff" text-anchor="end" stroke="#0000ff">0.764 1.20524</text>
<text transform="translate(1438.0 616.0) scale(0.895 1)" font-size="9.3" fill="#0000ff" text-anchor="end" stroke="#0000ff">100.0 1.20144</text>
<text y="403.2" font-size="20.3" font-weight="bold" fill="#ed1c24"><tspan x="1183.3" textLength="52.6" lengthAdjust="spacingAndGlyphs">Major</tspan> <tspan x="1244.2" textLength="94.2" lengthAdjust="spacingAndGlyphs">Resistance</tspan> <tspan x="1344.6" textLength="42.2" lengthAdjust="spacingAndGlyphs">Area</tspan></text>
<path d="M1147.4 4.8 L1155.1 4.8 L1151.25 9.3 Z" fill="#b4b4b4"/>
<g fill="none" stroke="#000" stroke-width="1.2">
<path d="M4.3 634.2 V4.4 H1440"/>
<path d="M4.3 752.2 V635.3"/>
<path d="M1439.5 4.4 V752.2"/>
<path d="M4.3 633.6 H1439.5"/>
<path d="M4.3 635.8 H1439.5" stroke-width="1.1"/>
</g>
<path d="M3.8 751.7 H1440.1" stroke="#333" stroke-width="1.2"/>
<path d="M6.9 10.1 H14 L10.45 14 Z" fill="#000"/>
<text transform="translate(17.9 14.8) scale(0.911 1)" font-size="9.3" fill="#000" stroke="#000">GBPUSD,H4</text>
<text transform="translate(73.0 14.8) scale(0.897 1)" font-size="9.3" fill="#000" stroke="#000">1.21300 1.21344 1.21292 1.21316</text>
<line x1="1440" y1="14.2" x2="1442" y2="14.2" stroke="#000" stroke-width="1"/>
<text transform="translate(1444.8 17.7) scale(0.881 1)" font-size="9.3" fill="#000" stroke="#000">1.25960</text>
<line x1="1440" y1="45.0" x2="1442" y2="45.0" stroke="#000" stroke-width="1"/>
<text transform="translate(1444.8 48.5) scale(0.881 1)" font-size="9.3" fill="#000" stroke="#000">1.25665</text>
<line x1="1440" y1="75.8" x2="1442" y2="75.8" stroke="#000" stroke-width="1"/>
<text transform="translate(1444.8 79.3) scale(0.881 1)" font-size="9.3" fill="#000" stroke="#000">1.25370</text>
<line x1="1440" y1="106.7" x2="1442" y2="106.7" stroke="#000" stroke-width="1"/>
<text transform="translate(1444.8 110.2) scale(0.881 1)" font-size="9.3" fill="#000" stroke="#000">1.25070</text>
<line x1="1440" y1="137.5" x2="1442" y2="137.5" stroke="#000" stroke-width="1"/>
<text transform="translate(1444.8 141.0) scale(0.881 1)" font-size="9.3" fill="#000" stroke="#000">1.24775</text>
<line x1="1440" y1="168.3" x2="1442" y2="168.3" stroke="#000" stroke-width="1"/>
<text transform="translate(1444.8 171.8) scale(0.881 1)" font-size="9.3" fill="#000" stroke="#000">1.24475</text>
<line x1="1440" y1="199.1" x2="1442" y2="199.1" stroke="#000" stroke-width="1"/>
<text transform="translate(1444.8 202.6) scale(0.881 1)" font-size="9.3" fill="#000" stroke="#000">1.24180</text>
<line x1="1440" y1="229.9" x2="1442" y2="229.9" stroke="#000" stroke-width="1"/>
<text transform="translate(1444.8 233.4) scale(0.881 1)" font-size="9.3" fill="#000" stroke="#000">1.23885</text>
<line x1="1440" y1="260.8" x2="1442" y2="260.8" stroke="#000" stroke-width="1"/>
<text transform="translate(1444.8 264.3) scale(0.881 1)" font-size="9.3" fill="#000" stroke="#000">1.23585</text>
<line x1="1440" y1="291.6" x2="1442" y2="291.6" stroke="#000" stroke-width="1"/>
<text transform="translate(1444.8 295.1) scale(0.881 1)" font-size="9.3" fill="#000" stroke="#000">1.23290</text>
<line x1="1440" y1="322.4" x2="1442" y2="322.4" stroke="#000" stroke-width="1"/>
<text transform="translate(1444.8 325.9) scale(0.881 1)" font-size="9.3" fill="#000" stroke="#000">1.22990</text>
<line x1="1440" y1="353.2" x2="1442" y2="353.2" stroke="#000" stroke-width="1"/>
<text transform="translate(1444.8 356.7) scale(0.881 1)" font-size="9.3" fill="#000" stroke="#000">1.22695</text>
<line x1="1440" y1="384.0" x2="1442" y2="384.0" stroke="#000" stroke-width="1"/>
<text transform="translate(1444.8 387.5) scale(0.881 1)" font-size="9.3" fill="#000" stroke="#000">1.22395</text>
<line x1="1440" y1="414.9" x2="1442" y2="414.9" stroke="#000" stroke-width="1"/>
<line x1="1440" y1="445.7" x2="1442" y2="445.7" stroke="#000" stroke-width="1"/>
<text transform="translate(1444.8 449.2) scale(0.881 1)" font-size="9.3" fill="#000" stroke="#000">1.21805</text>
<line x1="1440" y1="476.5" x2="1442" y2="476.5" stroke="#000" stroke-width="1"/>
<text transform="translate(1444.8 480.0) scale(0.881 1)" font-size="9.3" fill="#000" stroke="#000">1.21505</text>
<line x1="1440" y1="507.3" x2="1442" y2="507.3" stroke="#000" stroke-width="1"/>
<text transform="translate(1444.8 510.8) scale(0.881 1)" font-size="9.3" fill="#000" stroke="#000">1.21210</text>
<line x1="1440" y1="538.1" x2="1442" y2="538.1" stroke="#000" stroke-width="1"/>
<text transform="translate(1444.8 541.6) scale(0.881 1)" font-size="9.3" fill="#000" stroke="#000">1.20910</text>
<line x1="1440" y1="569.0" x2="1442" y2="569.0" stroke="#000" stroke-width="1"/>
<text transform="translate(1444.8 572.5) scale(0.881 1)" font-size="9.3" fill="#000" stroke="#000">1.20615</text>
<line x1="1440" y1="599.8" x2="1442" y2="599.8" stroke="#000" stroke-width="1"/>
<text transform="translate(1444.8 603.3) scale(0.881 1)" font-size="9.3" fill="#000" stroke="#000">1.20320</text>
<line x1="1440" y1="630.6" x2="1442" y2="630.6" stroke="#000" stroke-width="1"/>
<text transform="translate(1444.8 634.1) scale(0.881 1)" font-size="9.3" fill="#000" stroke="#000">1.20020</text>
<rect x="1441" y="213.9" width="37" height="10.1" fill="#ff0000"/>
<text transform="translate(1444.8 222.2) scale(0.881 1)" font-size="9.3" fill="#fff" stroke="#fff">1.23984</text>
<rect x="1441" y="370.6" width="37" height="10.1" fill="#ff0000"/>
<text transform="translate(1444.8 378.9) scale(0.881 1)" font-size="9.3" fill="#fff" stroke="#fff">1.22475</text>
<rect x="1441" y="411.7" width="37" height="10.1" fill="#ff0000"/>
<text transform="translate(1444.8 420.0) scale(0.881 1)" font-size="9.3" fill="#fff" stroke="#fff">1.22078</text>
<rect x="1441" y="491.1" width="37" height="10.1" fill="#000"/>
<text transform="translate(1444.8 499.4) scale(0.881 1)" font-size="9.3" fill="#fff" stroke="#fff">1.21316</text>
<text transform="translate(8.6 646.9) scale(0.900 1)" font-size="9.3" fill="#000" stroke="#000">RSI(14) 54.3344</text>
<line x1="5" y1="659.3" x2="1439" y2="659.3" stroke="#b8b8b8" stroke-width="1" stroke-dasharray="2.7 2.74"/>
<line x1="5" y1="694.1" x2="1439" y2="694.1" stroke="#b8b8b8" stroke-width="1" stroke-dasharray="2.7 2.74"/>
<line x1="5" y1="728.6" x2="1439" y2="728.6" stroke="#b8b8b8" stroke-width="1" stroke-dasharray="2.7 2.74"/>
<text transform="translate(1442.0 644.8) scale(0.875 1)" font-size="9.3" fill="#000" stroke="#000">100</text>
<text transform="translate(1442.0 662.6) scale(0.875 1)" font-size="9.3" fill="#000" stroke="#000">80</text>
<text transform="translate(1442.0 697.3) scale(0.875 1)" font-size="9.3" fill="#000" stroke="#000">50</text>
<text transform="translate(1442.0 731.7) scale(0.875 1)" font-size="9.3" fill="#000" stroke="#000">20</text>
<text transform="translate(1442.0 748.5) scale(0.875 1)" font-size="9.3" fill="#000" stroke="#000">0</text>
<polyline fill="none" stroke="#a030e0" stroke-width="1.15" stroke-linejoin="round" points="4.5,682.2 14.2,691.7 27.4,702.2 33.4,700.2 48.7,700.2 55.7,713.0 63.2,719.7 69.9,721.7 77.0,722.7 84.7,722.7 92.2,717.0 99.3,720.5 106.4,718.0 114.5,702.2 121.6,706.3 128.7,705.9 135.8,703.9 143.3,691.1 150.4,692.3 157.7,690.7 164.8,677.1 172.3,676.1 179.4,679.5 186.9,687.2 194.2,687.2 201.3,690.1 208.8,690.1 215.9,690.1 223.4,690.1 230.5,702.4 237.6,699.8 244.9,696.4 252.4,699.4 259.5,699.4 266.6,702.8 274.1,710.5 281.4,704.3 288.9,706.3 298.1,705.9 305.2,704.9 310.3,706.3 318.4,693.7 325.5,687.6 332.2,684.0 339.7,690.1 347.2,690.1 354.5,693.7 361.0,695.1 368.7,684.6 376.2,701.4 383.2,700.2 390.7,698.4 398.0,700.2 405.1,701.8 412.6,707.9 419.7,714.4 427.2,714.4 434.5,715.4 441.6,717.0 448.7,723.1 456.2,731.2 463.3,733.3 471.0,733.3 478.1,734.3 485.6,737.9 492.7,724.1 499.8,725.5 507.3,725.5 514.4,727.6 521.7,725.1 529.2,723.5 536.3,723.5 543.4,715.0 550.9,706.9 558.2,715.4 565.3,720.1 572.8,714.4 579.9,716.4 587.1,719.5 594.6,706.5 601.3,709.9 609.0,705.9 616.5,709.9 623.6,707.9 630.7,704.9 637.8,701.2 644.9,697.4 652.0,694.7 659.7,699.2 667.2,702.4 674.3,695.3 681.4,697.4 689.1,701.2 696.2,696.8 703.7,695.1 711.2,691.1 718.3,694.3 725.4,698.4 732.4,694.7 739.7,691.1 747.2,693.7 754.3,698.8 761.4,701.4 768.9,696.8 776.2,699.8 783.3,696.8 790.8,694.7 797.9,694.3 805.4,704.3 812.7,698.4 819.8,699.4 827.3,697.4 834.4,699.2 841.5,703.2 849.0,711.4 856.1,712.6 863.8,719.5 870.9,717.4 878.1,714.0 885.2,705.3 892.9,697.4 900.0,700.8 907.5,702.2 914.6,702.2 921.7,704.3 929.2,704.3 936.5,697.8 943.6,702.8 951.1,704.3 958.2,705.3 965.3,705.3 972.8,700.4 980.1,699.2 987.6,702.2 994.7,704.3 1001.8,702.4 1009.3,703.2 1016.6,691.1 1023.7,679.9 1031.2,683.6 1038.3,694.7 1045.8,692.7 1053.1,691.1 1060.1,679.5 1067.6,674.5 1074.7,678.9 1082.2,682.6 1089.3,682.6 1096.6,679.5 1104.1,689.3 1111.2,693.7 1118.7,687.2 1125.8,690.3 1132.9,689.3 1139.6,689.3"/>
<line x1="5.0" y1="752" x2="5.0" y2="755" stroke="#000" stroke-width="1"/>
<text transform="translate(4.1 763.6) scale(0.878 1)" font-size="9.3" fill="#000" stroke="#000">15 Jul 2019</text>
<line x1="63.2" y1="752" x2="63.2" y2="755" stroke="#000" stroke-width="1"/>
<text transform="translate(62.3 763.6) scale(0.881 1)" font-size="9.3" fill="#000" stroke="#000">16 Jul 12:00</text>
<line x1="121.4" y1="752" x2="121.4" y2="755" stroke="#000" stroke-width="1"/>
<text transform="translate(120.5 763.6) scale(0.881 1)" font-size="9.3" fill="#000" stroke="#000">17 Jul 20:00</text>
<line x1="179.6" y1="752" x2="179.6" y2="755" stroke="#000" stroke-width="1"/>
<text transform="translate(178.7 763.6) scale(0.881 1)" font-size="9.3" fill="#000" stroke="#000">19 Jul 04:00</text>
<line x1="237.9" y1="752" x2="237.9" y2="755" stroke="#000" stroke-width="1"/>
<text transform="translate(237.0 763.6) scale(0.881 1)" font-size="9.3" fill="#000" stroke="#000">22 Jul 12:00</text>
<line x1="296.1" y1="752" x2="296.1" y2="755" stroke="#000" stroke-width="1"/>
<text transform="translate(295.2 763.6) scale(0.881 1)" font-size="9.3" fill="#000" stroke="#000">23 Jul 20:00</text>
<line x1="354.3" y1="752" x2="354.3" y2="755" stroke="#000" stroke-width="1"/>
<text transform="translate(353.4 763.6) scale(0.881 1)" font-size="9.3" fill="#000" stroke="#000">25 Jul 04:00</text>
<line x1="412.5" y1="752" x2="412.5" y2="755" stroke="#000" stroke-width="1"/>
<text transform="translate(411.6 763.6) scale(0.881 1)" font-size="9.3" fill="#000" stroke="#000">26 Jul 12:00</text>
<line x1="470.7" y1="752" x2="470.7" y2="755" stroke="#000" stroke-width="1"/>
<text transform="translate(469.8 763.6) scale(0.881 1)" font-size="9.3" fill="#000" stroke="#000">29 Jul 20:00</text>
<line x1="528.9" y1="752" x2="528.9" y2="755" stroke="#000" stroke-width="1"/>
<text transform="translate(528.0 763.6) scale(0.881 1)" font-size="9.3" fill="#000" stroke="#000">31 Jul 04:00</text>
<line x1="587.2" y1="752" x2="587.2" y2="755" stroke="#000" stroke-width="1"/>
<text transform="translate(586.3 763.6) scale(0.918 1)" font-size="9.3" fill="#000" stroke="#000">1 Aug 12:00</text>
<line x1="645.4" y1="752" x2="645.4" y2="755" stroke="#000" stroke-width="1"/>
<text transform="translate(644.5 763.6) scale(0.918 1)" font-size="9.3" fill="#000" stroke="#000">2 Aug 20:00</text>
<line x1="703.6" y1="752" x2="703.6" y2="755" stroke="#000" stroke-width="1"/>
<text transform="translate(702.7 763.6) scale(0.918 1)" font-size="9.3" fill="#000" stroke="#000">6 Aug 04:00</text>
<line x1="761.8" y1="752" x2="761.8" y2="755" stroke="#000" stroke-width="1"/>
<text transform="translate(760.9 763.6) scale(0.918 1)" font-size="9.3" fill="#000" stroke="#000">7 Aug 12:00</text>
<line x1="820.0" y1="752" x2="820.0" y2="755" stroke="#000" stroke-width="1"/>
<text transform="translate(819.1 763.6) scale(0.918 1)" font-size="9.3" fill="#000" stroke="#000">8 Aug 20:00</text>
<line x1="878.2" y1="752" x2="878.2" y2="755" stroke="#000" stroke-width="1"/>
<text transform="translate(877.3 763.6) scale(0.920 1)" font-size="9.3" fill="#000" stroke="#000">12 Aug 04:00</text>
<line x1="936.5" y1="752" x2="936.5" y2="755" stroke="#000" stroke-width="1"/>
<text transform="translate(935.6 763.6) scale(0.920 1)" font-size="9.3" fill="#000" stroke="#000">13 Aug 12:00</text>
<line x1="994.7" y1="752" x2="994.7" y2="755" stroke="#000" stroke-width="1"/>
<text transform="translate(993.8 763.6) scale(0.920 1)" font-size="9.3" fill="#000" stroke="#000">14 Aug 20:00</text>
<line x1="1052.9" y1="752" x2="1052.9" y2="755" stroke="#000" stroke-width="1"/>
<text transform="translate(1052.0 763.6) scale(0.920 1)" font-size="9.3" fill="#000" stroke="#000">16 Aug 04:00</text>
<line x1="1111.1" y1="752" x2="1111.1" y2="755" stroke="#000" stroke-width="1"/>
<text transform="translate(1110.2 763.6) scale(0.920 1)" font-size="9.3" fill="#000" stroke="#000">19 Aug 12:00</text>
</svg></body></html>
